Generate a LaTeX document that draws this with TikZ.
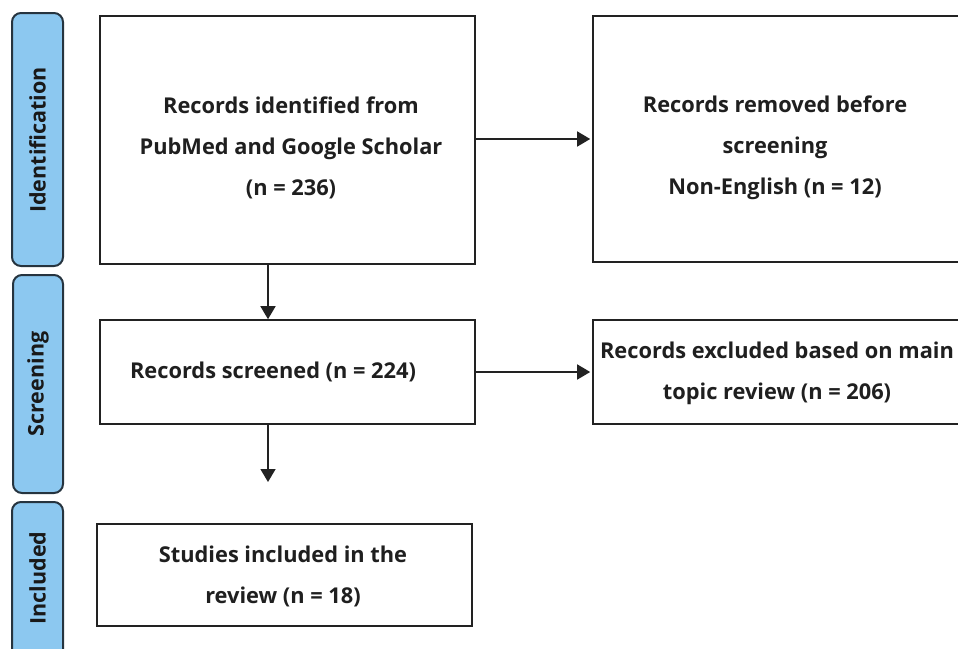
\documentclass[tikz,border=0pt]{standalone}
\usepackage{fontspec}
\setmainfont{Open Sans}
\usetikzlibrary{arrows.meta}
\definecolor{pillfill}{HTML}{8CC8F0}
\definecolor{pillline}{HTML}{26343F}
\definecolor{boxline}{HTML}{222222}
\begin{document}
\begin{tikzpicture}[x=1pt,y=1pt,
  pill/.style={draw=pillline, fill=pillfill, line width=2pt, rounded corners=9pt},
  pilltext/.style={rotate=90, font=\bfseries\fontsize{21.5}{24}\selectfont, text=black!90, inner sep=0pt},
  box/.style={draw=boxline, line width=1.6pt, inner sep=0pt},
  btext/.style={font=\bfseries\fontsize{21.8}{41}\selectfont, align=center, text=black!88, inner sep=0pt},
  arr/.style={draw=boxline, line width=1.5pt, -{Triangle[width=15pt,length=13pt]}}
]
\useasboundingbox (0,0) rectangle (958,-648);
\clip (0,0) rectangle (958,-648);
% side pills
\draw[pill] (12,-13) rectangle (63,-266);
\node[pilltext] (idt) at (37.5,-140) {Identification};
\draw[pill] (13,-275) rectangle (63,-493);
\node[pilltext] (scr) at (38,-384) {Screening};
\draw[pill] (12,-502) rectangle (63,-680);
\node[pilltext] (inc) at (37.5,-578) {Included};
% boxes
\node[box, minimum width=375pt, minimum height=248pt] (b1) at (287.5,-140) {};
\node[btext] (t1) at (291,-148) {Records identified from\\PubMed and Google Scholar\\(n = 236)};
\node[box, minimum width=373pt, minimum height=246pt] (b2) at (779.5,-139) {};
\node[btext] (t2) at (775,-148) {Records removed before\\screening\\Non-English (n = 12)};
\node[box, minimum width=375pt, minimum height=104pt] (b3) at (287.5,-372) {};
\node[btext] (t3) at (273,-372) {Records screened (n = 224)};
\node[box, minimum width=373pt, minimum height=104pt] (b4) at (779.5,-372) {};
\node[btext] (t4) at (777,-373) {Records excluded based on main\\topic review (n = 206)};
\node[box, minimum width=375pt, minimum height=102pt] (b5) at (284.5,-575) {};
\node[btext] (t5) at (283,-576) {Studies included in the\\review (n = 18)};
% connectors
\coordinate (vx) at (268,0);
\coordinate (end3) at (268,-482);
\draw[arr] (b1.east |- 0,-139) -- ([xshift=-2pt]b2.west |- 0,-139);
\draw[arr] (b3.east) -- ([xshift=-2pt]b4.west);
\draw[arr] (vx |- b1.south) -- (vx |- b3.north);
\draw[arr] (vx |- b3.south) -- (end3);
\end{tikzpicture}
\end{document}
